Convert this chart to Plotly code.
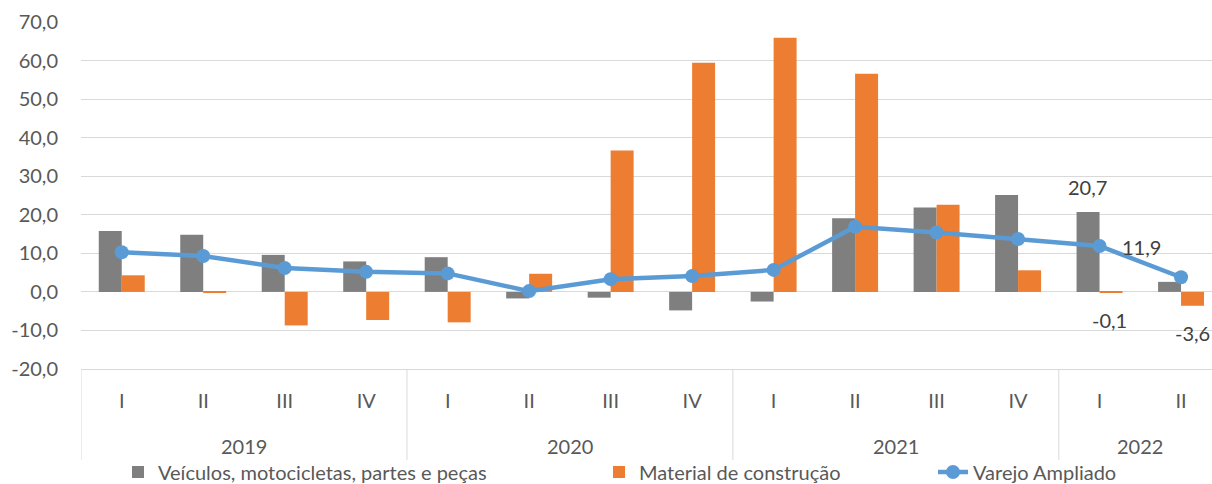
import plotly.graph_objects as go

# Quarterly variation (%) by segment
quarters = ["I", "II", "III", "IV", "I", "II", "III", "IV", "I", "II", "III", "IV", "I", "II"]
years = ["2019", "2020", "2021", "2022"]
quarters_per_year = [4, 4, 4, 2]

veiculos = [15.8, 14.8, 9.6, 7.9, 9.0, -1.7, -1.5, -4.8, -2.5, 19.1, 21.9, 25.1, 20.7, 2.6]
material = [4.3, -0.3, -8.7, -7.3, -7.9, 4.7, 36.7, 59.4, 65.9, 56.6, 22.6, 5.6, -0.1, -3.6]
varejo = [10.3, 9.3, 6.2, 5.2, 4.8, 0.2, 3.3, 4.1, 5.7, 16.9, 15.4, 13.7, 11.9, 3.8]

y_ticks = [-20, -10, 0, 10, 20, 30, 40, 50, 60, 70]
y_tick_labels = ["-20,0", "-10,0", "0,0", "10,0", "20,0", "30,0", "40,0", "50,0", "60,0", "70,0"]

GRAY = "#7F7F7F"
ORANGE = "#ED7D31"
BLUE = "#5B9BD5"
GRID = "#D9D9D9"
TEXT = "#595959"
FONT = "Lato, Calibri, sans-serif"


def br(v):
    return f"{v:.1f}".replace(".", ",")


x = list(range(len(quarters)))

fig = go.Figure()
fig.add_trace(go.Bar(x=x, y=veiculos, name="Veículos, motocicletas, partes e peças",
                     marker=dict(color=GRAY, line_width=0), legend="legend"))
fig.add_trace(go.Bar(x=x, y=material, name="Material de construção",
                     marker=dict(color=ORANGE, line_width=0), legend="legend2"))
fig.add_trace(go.Scatter(x=x, y=varejo, name="Varejo Ampliado", mode="lines+markers",
                         line=dict(color=BLUE, width=4.5),
                         marker=dict(color=BLUE, size=14), legend="legend3"))

annotations = []
# value labels for the last quarters
annotations.append(dict(x=12, y=veiculos[12], text=br(veiculos[12]), xshift=-12, yshift=25))
annotations.append(dict(x=12, y=varejo[12], text=br(varejo[12]), xshift=42, yshift=-1))
annotations.append(dict(x=12, y=material[12], text=br(material[12]), xshift=10, yshift=-28))
annotations.append(dict(x=13, y=material[13], text=br(material[13]), xshift=11, yshift=-27))
for a in annotations:
    a.update(xref="x", yref="y", showarrow=False, xanchor="center", yanchor="middle",
             font=dict(family=FONT, size=20, color="#404040"))

# year labels and group dividers under the category axis
shapes = []
start = 0
for yr, n in zip(years, quarters_per_year):
    center = start + (n - 1) / 2
    annotations.append(dict(x=center, y=-0.222, xref="x", yref="paper", text=yr,
                            showarrow=False, yanchor="middle",
                            font=dict(family=FONT, size=20, color=TEXT)))
    shapes.append(dict(type="line", xref="x", yref="paper", x0=start - 0.5, x1=start - 0.5,
                       y0=0, y1=-0.262, line=dict(color=GRID, width=1)))
    start += n

legend_common = dict(orientation="h", yanchor="middle", y=-0.297, xanchor="left",
                     font=dict(family=FONT, size=20, color=TEXT), bgcolor="rgba(0,0,0,0)")

fig.update_layout(
    width=1212, height=484,
    margin=dict(l=81, r=0, t=22, b=115, autoexpand=False),
    plot_bgcolor="white", paper_bgcolor="white",
    showlegend=True,
    barmode="group", bargap=0.436, bargroupgap=0,
    font=dict(family=FONT, size=20, color=TEXT),
    xaxis=dict(range=[-0.5, 13.38], tickmode="array", tickvals=x, ticktext=quarters,
               showgrid=False, zeroline=False, showline=True, linecolor=GRID, linewidth=1,
               ticks="", ticklabelstandoff=14, automargin=False,
               tickfont=dict(family=FONT, size=20, color=TEXT)),
    yaxis=dict(range=[-20, 70], tickmode="array", tickvals=y_ticks, ticktext=y_tick_labels,
               showgrid=True, gridcolor=GRID, gridwidth=1, zeroline=True, zerolinecolor=GRID,
               zerolinewidth=1, showline=False, ticks="", ticklabelstandoff=22, automargin=False,
               tickfont=dict(family=FONT, size=20, color=TEXT)),
    legend=dict(legend_common, x=(118 - 81) / 1131),
    legend2=dict(legend_common, x=(599 - 81) / 1131),
    legend3=dict(legend_common, x=(933 - 81) / 1131),
    annotations=annotations,
    shapes=shapes,
)

fig.write_html("out.html")
